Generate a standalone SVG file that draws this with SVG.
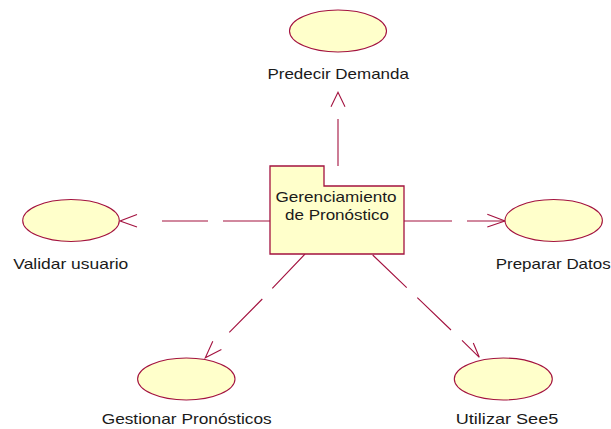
<svg xmlns="http://www.w3.org/2000/svg" width="611" height="429" viewBox="0 0 611 429">
<style>
.uc{fill:#FFFFCB;stroke:#A3123F;stroke-width:1.1}
.pkg{fill:#FFFFCB;stroke:#A3123F;stroke-width:1.3}
.ln{fill:none;stroke:#A3123F;stroke-width:1.1}
.ah{fill:none;stroke:#A3123F;stroke-width:1.1;stroke-linejoin:miter}
text{font-family:"Liberation Sans",Arial,sans-serif;font-size:15px;fill:#1a1a1a}
</style>
<rect width="611" height="429" fill="#ffffff"/>
<g id="connectors">
<path class="ln" d="M338,166 V119"/>
<polyline class="ah" points="331,106.7 338,92.3 345,106.7"/>
<path class="ln" d="M270,221 H223 M208,221 H162"/>
<polyline class="ah" points="137,214.5 120,221 137,227"/>
<path class="ln" d="M404,221 H452 M467,221 H505"/>
<polyline class="ah" points="487.3,214.3 505,221 487.3,227"/>
<path class="ln" d="M305,254 L272.3,288.3 M262.3,299 L229.3,332.3"/>
<polyline class="ah" points="212.8,341.2 205.3,357.7 221.4,349.6"/>
<path class="ln" d="M372.7,255 L406.7,287.7 M417.3,297.7 L451,330"/>
<polyline class="ah" points="462,340.3 479.3,357.3 473.3,343"/>
</g>
<g id="pkg">
<path class="pkg" d="M270,254 V166 H324 V186 H404 V254 Z"/>
<text x="336" y="201.7" text-anchor="middle" textLength="121" lengthAdjust="spacingAndGlyphs">Gerenciamiento</text>
<text x="337" y="220" text-anchor="middle" textLength="104" lengthAdjust="spacingAndGlyphs">de Pronóstico</text>
</g>
<g id="predecir">
<ellipse class="uc" cx="338" cy="31" rx="48.5" ry="21"/>
<text x="338.2" y="78.5" text-anchor="middle" textLength="141.5" lengthAdjust="spacingAndGlyphs">Predecir Demanda</text>
</g>
<g id="validar">
<ellipse class="uc" cx="71" cy="220.5" rx="48.3" ry="21"/>
<text x="70.8" y="269" text-anchor="middle" textLength="115" lengthAdjust="spacingAndGlyphs">Validar usuario</text>
</g>
<g id="preparar">
<ellipse class="uc" cx="553.7" cy="220.5" rx="48.7" ry="21"/>
<text x="553.2" y="269" text-anchor="middle" textLength="115" lengthAdjust="spacingAndGlyphs">Preparar Datos</text>
</g>
<g id="gestionar">
<ellipse class="uc" cx="186.3" cy="379" rx="48.7" ry="21"/>
<text x="186.7" y="424" text-anchor="middle" textLength="170" lengthAdjust="spacingAndGlyphs">Gestionar Pronósticos</text>
</g>
<g id="utilizar">
<ellipse class="uc" cx="503.3" cy="379" rx="49" ry="21"/>
<text x="507" y="424" text-anchor="middle" textLength="102.5" lengthAdjust="spacingAndGlyphs">Utilizar See5</text>
</g>
</svg>
